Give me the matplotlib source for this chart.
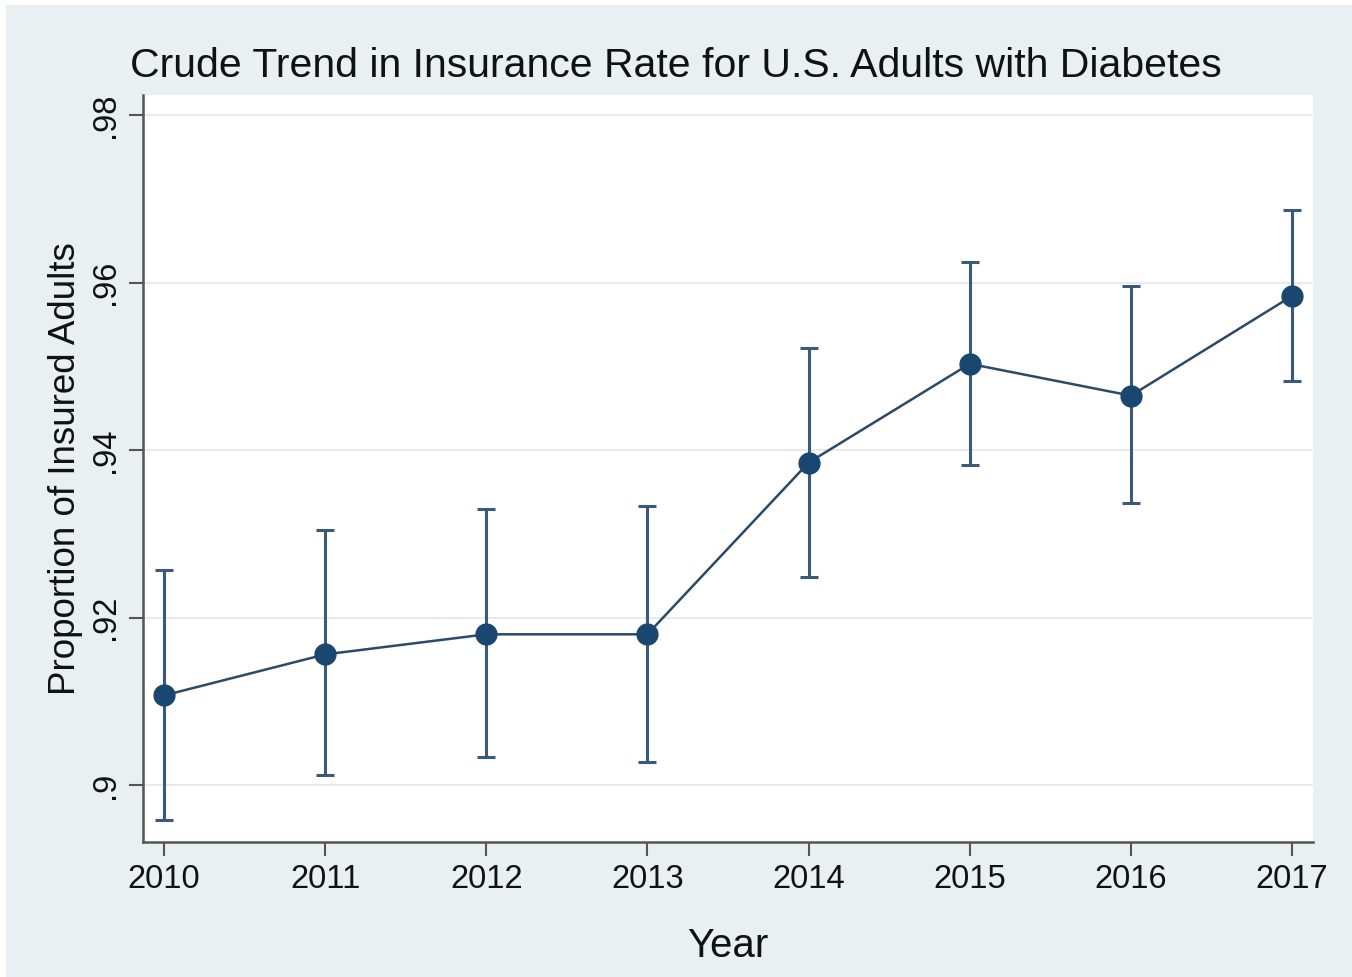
import matplotlib
matplotlib.use("Agg")
import matplotlib.pyplot as plt
from matplotlib.patches import Rectangle

# Survey estimates with 95% confidence bounds
years = [2010, 2011, 2012, 2013, 2014, 2015, 2016, 2017]
rate = [0.9107, 0.9156, 0.9180, 0.9180, 0.9385, 0.9503, 0.9465, 0.9584]
upper = [0.9257, 0.9305, 0.9330, 0.9333, 0.9522, 0.9625, 0.9596, 0.9687]
lower = [0.8958, 0.9012, 0.9033, 0.9028, 0.9248, 0.9382, 0.9337, 0.9482]
ytick_vals = [0.90, 0.92, 0.94, 0.96, 0.98]
ytick_labels = [".9", ".92", ".94", ".96", ".98"]

plt.rcParams["font.family"] = ["Liberation Sans", "DejaVu Sans"]

W, H = 1352, 977
fig = plt.figure(figsize=(W / 100, H / 100), dpi=100, facecolor="white")
bg = "#E8F0F2"
fig.patches.append(Rectangle((6 / W, 0), 1, 1 - 5 / H, transform=fig.transFigure,
                             facecolor=bg, edgecolor="none", zorder=-10))

ax = fig.add_axes([143 / W, 1 - 842 / H, (1313 - 143) / W, (842 - 95) / H])
ax.set_facecolor("white")

navy = "#1A476F"
bar_col = "#3A5A7C"
err_lo = [r - l for r, l in zip(rate, lower)]
err_hi = [u - r for r, u in zip(rate, upper)]
ax.errorbar(years, rate, yerr=[err_lo, err_hi], fmt="none", ecolor=bar_col,
            elinewidth=2.2, capsize=6.5, capthick=2.2, zorder=2)
ax.plot(years, rate, color="#2A4A68", lw=1.8, zorder=3)
ax.plot(years, rate, "o", color=navy, ms=15, zorder=4)

ax.set_xlim(2009.87, 2017.13)
ax.set_ylim(0.8932, 0.9824)
ax.set_xticks(years)
ax.set_xticklabels([str(y) for y in years])
ax.set_yticks(ytick_vals)
ax.set_yticklabels(ytick_labels, rotation=90, va="center")

ax.grid(axis="y", color="#EAEAEA", lw=1.5, zorder=0)
ax.set_axisbelow(True)
for side in ["top", "right"]:
    ax.spines[side].set_visible(False)
for side in ["left", "bottom"]:
    ax.spines[side].set_color("#555555")
    ax.spines[side].set_linewidth(1.8)
ax.tick_params(axis="both", length=10, width=1.5, color="#555555",
               labelsize=23.5, labelcolor="#111111", pad=6)

ax.set_xlabel("Year", fontsize=29, color="#111111", labelpad=23)
ax.set_ylabel("Proportion of Insured Adults", fontsize=26.5, color="#111111", labelpad=5)
fig.text(0.5, 1 - 66 / H, "Crude Trend in Insurance Rate for U.S. Adults with Diabetes",
         ha="center", va="center", fontsize=29.5, color="#111111")

fig.savefig("out.png", dpi=100, facecolor="white")
